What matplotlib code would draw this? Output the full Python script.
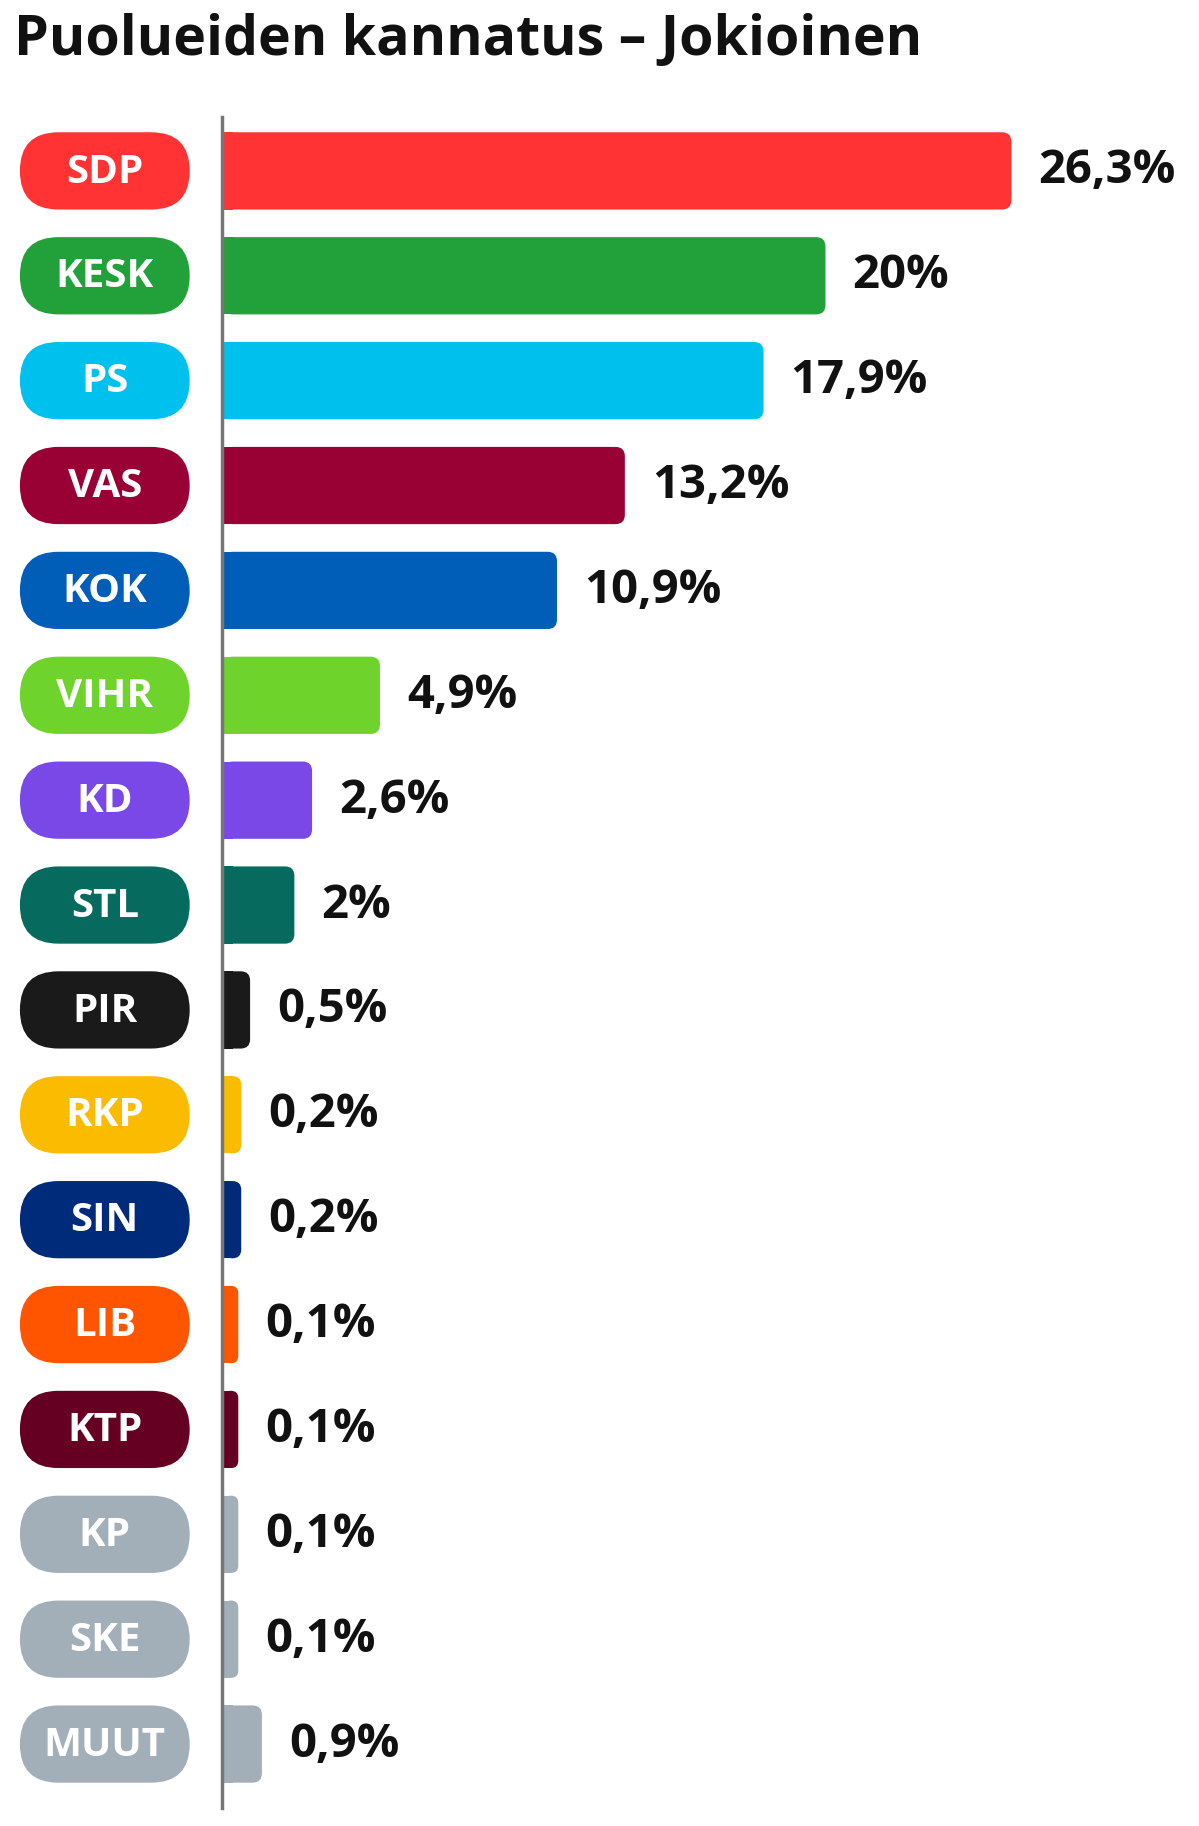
import matplotlib
matplotlib.use("Agg")
import matplotlib.pyplot as plt
from matplotlib.patches import FancyBboxPatch, Rectangle

parties = ["SDP","KESK","PS","VAS","KOK","VIHR","KD","STL","PIR","RKP","SIN","LIB","KTP","KP","SKE","MUUT"]
values = [26.3,20,17.9,13.2,10.9,4.9,2.6,2,0.5,0.2,0.2,0.1,0.1,0.1,0.1,0.9]
labels = ["26,3%","20%","17,9%","13,2%","10,9%","4,9%","2,6%","2%","0,5%","0,2%","0,2%","0,1%","0,1%","0,1%","0,1%","0,9%"]
colors = ["#FF3333","#22A03A","#00C1EE","#990033","#005DB8","#6ED32A","#7A48E6","#076A5E",
          "#1A1A1A","#FBBB00","#002A7A","#FF5500","#660022","#A2AFB8","#A2AFB8","#A2AFB8"]

plt.rcParams['font.family'] = ['Open Sans', 'DejaVu Sans']
fig = plt.figure(figsize=(11.99, 18.26), dpi=100)
ax = fig.add_axes([0, 0, 1, 1])
ax.set_xlim(0, 1024)
ax.set_ylim(1560, 0)
ax.axis('off')

ax.text(12, 35, "Puolueiden kannatus – Jokioinen", fontsize=40, fontweight='bold',
        va='center', ha='left', color='#111111')

x0 = 191; scale = 25.2; h = 66; y_first = 146; step = 89.6
for i, (p, v, lab, c) in enumerate(zip(parties, values, labels, colors)):
    yc = y_first + i * step
    w = 10 + scale * v
    r = min(8, w / 2)
    ax.add_patch(FancyBboxPatch((x0, yc - h/2), w, h,
                 boxstyle=f"round,pad=0,rounding_size={r}", fc=c, ec='none'))
    ax.add_patch(Rectangle((x0, yc - h/2), min(r, w), h, fc=c, ec='none'))
    ax.text(x0 + w + 23, yc, lab, fontsize=34, fontweight='bold', va='center', ha='left', color='#111111')
    ax.add_patch(FancyBboxPatch((17, yc - h/2), 145, h,
                 boxstyle="round,pad=0,rounding_size=33", fc=c, ec='none'))
    ax.text(89.5, yc + 1, p, fontsize=29, fontweight='bold', va='center', ha='center', color='white')

ax.plot([190, 190], [100, 1545], color='#777777', lw=2.5)
fig.savefig("out.png", dpi=100)
